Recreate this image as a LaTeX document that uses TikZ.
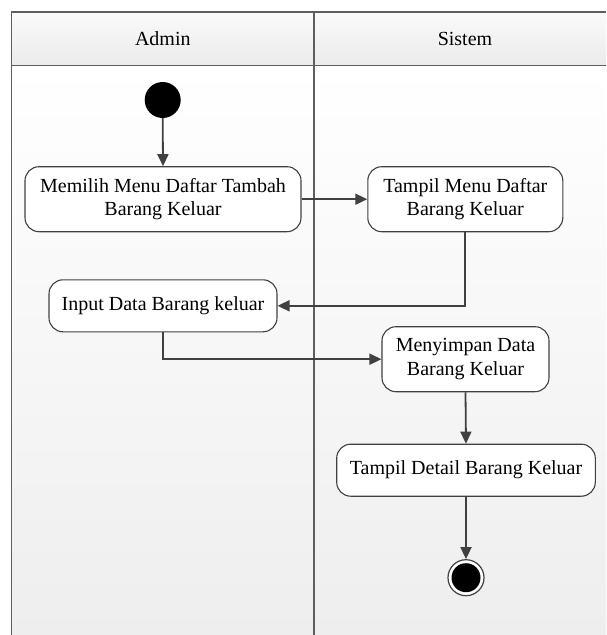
\documentclass[tikz,border=0pt]{standalone}
\usepackage{fontspec}
\setmainfont{Liberation Serif}
\usetikzlibrary{arrows.meta}
\definecolor{lanegray}{HTML}{5E5E5E}
\definecolor{linegray}{HTML}{404040}
\definecolor{bgbottom}{HTML}{EEEEEE}
\definecolor{hdtop}{HTML}{FAFAFA}
\definecolor{hdbottom}{HTML}{EBEBEB}
\tikzset{
  act/.style={draw=linegray, line width=1.1pt, fill=white, rounded corners=14pt,
    align=center, inner sep=0pt, font=\fontsize{20}{23.5}\selectfont},
  flow/.style={draw=linegray, line width=1.8pt, -{Triangle[length=12pt,width=11pt]}},
  flowplain/.style={draw=linegray, line width=1.8pt},
  lane/.style={draw=lanegray, line width=1.6pt},
  lanelabel/.style={font=\fontsize{20}{23.5}\selectfont}
}
\begin{document}
\begin{tikzpicture}[x=1pt,y=-1pt]
\useasboundingbox (0,0) rectangle (606,635);
\fill[white] (0,0) rectangle (606,635);
% lane body and header
\shade[top color=white, bottom color=bgbottom] (11.5,65.5) rectangle (606,635);
\shade[top color=hdtop, bottom color=hdbottom] (11.5,11.7) rectangle (606,65.5);
\draw[lane] (606,11.7) -- (11.5,11.7) -- (11.5,635);
\draw[lane] (11.5,65.5) -- (606,65.5);
\draw[lane] (314,11.7) -- (314,635);
\node[lanelabel] (hadmin) at (162.8,39) {Admin};
\node[lanelabel] (hsistem) at (465,39) {Sistem};
% start
\node[circle, fill=black, minimum size=36pt, inner sep=0pt] (start) at (162.7,100) {};
% activities
\node[act, minimum width=276pt, minimum height=65pt] (a1) at (163,199.2) {Memilih Menu Daftar Tambah\\Barang Keluar};
\node[act, minimum width=195pt, minimum height=65pt] (a2) at (465.3,199.2) {Tampil Menu Daftar\\Barang Keluar};
\node[act, minimum width=228pt, minimum height=52pt] (a3) at (163,305.8) {Input Data Barang keluar};
\node[act, minimum width=167pt, minimum height=65pt] (a4) at (465.5,359.2) {Menyimpan Data\\Barang Keluar};
\node[act, minimum width=258.6pt, minimum height=52pt] (a5) at (466,470.2) {Tampil Detail Barang Keluar};
% end
\node[circle, draw=linegray, line width=1.2pt, fill=white, minimum size=36pt, inner sep=0pt] (endo) at (466,577.7) {};
\node[circle, fill=black, minimum size=29pt, inner sep=0pt] (endi) at (endo.center) {};
% flows
\draw[flow] (start.south) -- (a1.north);
\draw[flow] (a1.east) -- (a2.west);
\draw[flow] (a2.south) |- (a3.east);
\draw[flow] (a3.south) |- (a4.west);
\draw[flow] (a4.south) -- (a5.north);
\draw[flow] (a5.south) -- (endo.north);
\end{tikzpicture}
\end{document}
